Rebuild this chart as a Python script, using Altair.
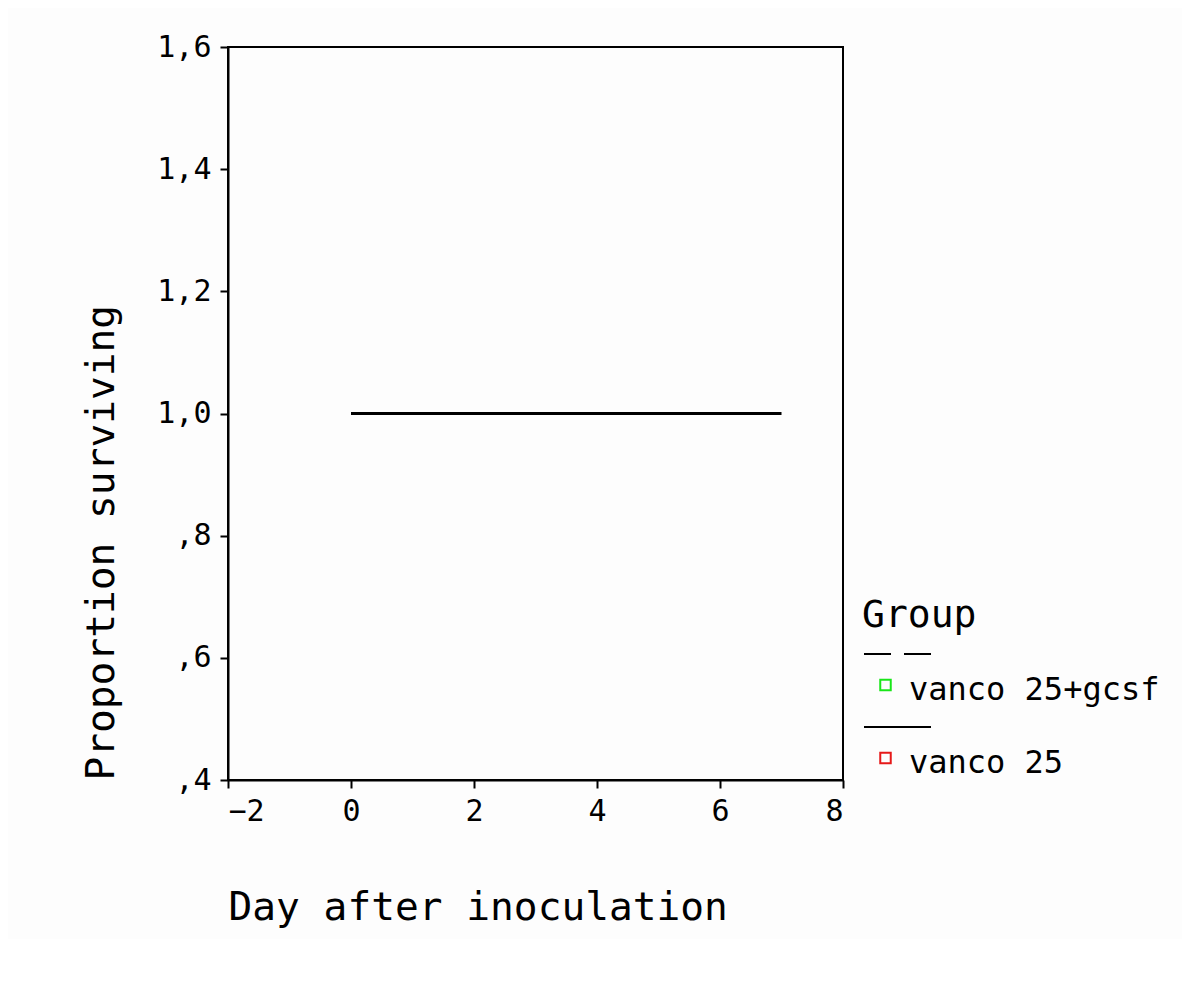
import altair as alt
import pandas as pd

# ---- data ----
groups = ["vanco 25+gcsf", "vanco 25"]
days_gcsf = [0, 7]
surv_gcsf = [1.0, 1.0]
days_v25 = [0, 7]
surv_v25 = [1.0, 1.0]
x_ticks = [-2, 0, 2, 4, 6, 8]
y_ticks = [0.4, 0.6, 0.8, 1.0, 1.2, 1.4, 1.6]
legend_title = "Group"
group_colors = ["#19e619", "#e61919"]
group_dashes = [[27, 13], [1, 0]]

FONT = "DejaVu Sans Mono"

lines_df = pd.DataFrame({
    "day": days_gcsf + days_v25,
    "surv": surv_gcsf + surv_v25,
    "group": [groups[0]] * len(days_gcsf) + [groups[1]] * len(days_v25),
})
legend_df = pd.DataFrame({"group": groups})
title_df = pd.DataFrame({"t": [legend_title]})

x_enc = alt.X(
    "day:Q",
    scale=alt.Scale(domain=[-2, 8], nice=False, zero=False),
    axis=alt.Axis(
        values=x_ticks, title="Day after inoculation", titleAnchor="start",
        titlePadding=62, labelPadding=8, format="d",
    ),
)
y_enc = alt.Y(
    "surv:Q",
    scale=alt.Scale(domain=[0.4, 1.6], nice=False, zero=False),
    axis=alt.Axis(
        values=y_ticks, title="Proportion surviving", titleAnchor="start",
        titlePadding=35, labelPadding=9,
        labelExpr="datum.value < 1 ? ',' + format(datum.value * 10, '.0f') : replace(format(datum.value, '.1f'), '.', ',')",
    ),
)
dash_scale = alt.Scale(domain=groups, range=group_dashes)

base = alt.Chart(lines_df)
line_dashed = base.transform_filter(alt.datum.group == groups[0]).mark_line(
    color="black", strokeWidth=3
).encode(x=x_enc, y=y_enc, strokeDash=alt.StrokeDash("group:N", scale=dash_scale, legend=None))
line_solid = base.transform_filter(alt.datum.group == groups[1]).mark_line(
    color="black", strokeWidth=3
).encode(x=x_enc, y=y_enc, strokeDash=alt.StrokeDash("group:N", scale=dash_scale, legend=None))
plot_layer = alt.layer(line_dashed, line_solid)

# ---- hand-built SPSS style legend ----
leg_y = alt.Y("group:N", scale=alt.Scale(type="point", domain=groups, range=[607, 680], padding=0), axis=None)
leg_base = alt.Chart(legend_df)
leg_lines = leg_base.mark_rule(color="black", strokeWidth=2).encode(
    x=alt.value(636), x2=alt.value(703), y=leg_y,
    strokeDash=alt.StrokeDash("group:N", scale=dash_scale, legend=None),
)
leg_sq = leg_base.mark_point(shape="square", filled=False, size=110, strokeWidth=2, opacity=1, yOffset=31).encode(
    x=alt.value(657.5), y=leg_y,
    color=alt.Color("group:N", scale=alt.Scale(domain=groups, range=group_colors), legend=None),
)
leg_txt = leg_base.mark_text(align="left", baseline="middle", fontSize=32, font=FONT, color="black", yOffset=36).encode(
    x=alt.value(681), y=leg_y, text="group:N",
)
legend_layer = alt.layer(leg_lines, leg_sq, leg_txt)
leg_title = alt.Chart(title_df).mark_text(align="left", baseline="alphabetic", fontSize=38, font=FONT, color="black").encode(
    x=alt.value(634), y=alt.value(580), text="t:N",
)

chart = alt.layer(
    plot_layer, legend_layer, leg_title
).resolve_scale(y="independent").properties(
    width=615, height=733,
    padding={"left": 73, "top": 24, "right": 22, "bottom": 12},
    background="#fdfdfd",
).configure_view(
    stroke="black", strokeWidth=2
).configure_axis(
    domainColor="black", domainWidth=2, tickColor="black", tickWidth=2, tickSize=8,
    labelFont=FONT, labelFontSize=30, labelColor="black",
    titleFont=FONT, titleFontSize=39.5, titleColor="black", titleFontWeight="normal",
    grid=False,
)

chart.save("out.html", embed_options={"renderer": "svg", "actions": False})
